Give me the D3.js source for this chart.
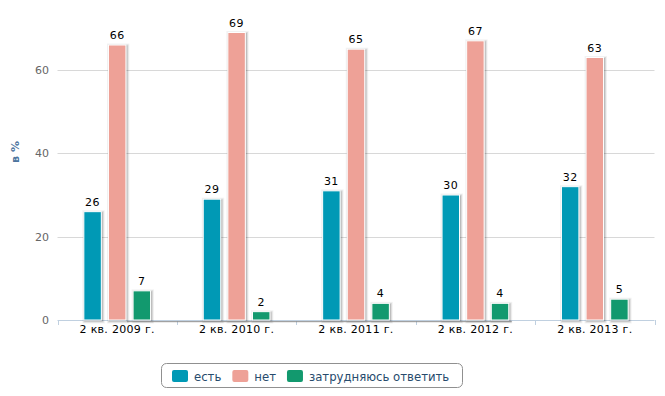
<!DOCTYPE html>
<html><head><meta charset="utf-8">
<script src="https://cdn.jsdelivr.net/npm/d3@7/dist/d3.min.js"></script>
<style>
body{margin:0;background:#fff;}
svg{display:block;font-family:"DejaVu Sans",Verdana,sans-serif;}
</style></head>
<body>
<svg id="chart" width="665" height="396"></svg>
<script>
const categories = ["2 кв. 2009 г.","2 кв. 2010 г.","2 кв. 2011 г.","2 кв. 2012 г.","2 кв. 2013 г."];
const seriesNames = ["есть","нет","затрудняюсь ответить"];
const seriesColors = ["#0099b5","#eea197","#12996e"];
const valuesEst = [26,29,31,30,32];
const valuesNet = [66,69,65,67,63];
const valuesHard = [7,2,4,4,5];
const yTicks = [0,20,40,60];
const yTitle = "в %";

const series = [valuesEst, valuesNet, valuesHard];
const svg = d3.select("#chart");
const m = {left:57.5, right:654.5, top:0, bottom:320};
const x = d3.scaleBand().domain(categories).range([m.left,m.right]).paddingInner(0).paddingOuter(0);
const y = d3.scaleLinear().domain([0,60]).range([320,70]);
const xs = d3.scaleBand().domain(d3.range(series.length)).range([0,x.bandwidth()]).paddingOuter(1.07).paddingInner(0.29);

// grid
svg.append("g").selectAll("line").data(yTicks.filter(d=>d>0)).join("line")
  .attr("x1",m.left).attr("x2",m.right)
  .attr("y1",d=>Math.round(y(d))+0.5).attr("y2",d=>Math.round(y(d))+0.5)
  .attr("stroke","#d8d8d8").attr("stroke-width",1);

// y labels
svg.append("g").selectAll("text").data(yTicks).join("text")
  .attr("x",49).attr("y",d=>y(d)+4).attr("text-anchor","end")
  .attr("fill","#666").style("font-size","11px").text(d=>d);

// y title
svg.append("text").attr("transform","translate(19,152) rotate(-90)")
  .attr("text-anchor","middle").attr("fill","#4d759e").style("font-size","11px").style("font-weight","bold").text(yTitle);

// x axis line
svg.append("line").attr("x1",m.left).attr("x2",m.right).attr("y1",320.5).attr("y2",320.5)
  .attr("stroke","#c0d0e0");
svg.append("g").selectAll("line").data(d3.range(categories.length+1)).join("line")
  .attr("x1",i=>Math.round(m.left+i*x.bandwidth())+0.5).attr("x2",i=>Math.round(m.left+i*x.bandwidth())+0.5)
  .attr("y1",320).attr("y2",325).attr("stroke","#c0d0e0");

// bars
const data = [];
series.forEach((vals,si)=>vals.forEach((v,ci)=>data.push({si,ci,v})));
const g = svg.append("g");
const bw = xs.bandwidth();
// axis shadow artifact (spans from first group's second bar to fourth group's last bar)
const sx1 = x(categories[0])+xs(1)+bw+1, sx2 = x(categories[3])+xs(2)+bw+3;
svg.append("line").attr("x1",sx1).attr("x2",sx2).attr("y1",321.5).attr("y2",321.5).attr("stroke","#8a8a8a").attr("stroke-opacity",0.8);
svg.append("line").attr("x1",sx1).attr("x2",sx2).attr("y1",322.5).attr("y2",322.5).attr("stroke","#000").attr("stroke-opacity",0.08);
// shadows
[[5,0.05],[3,0.1],[1,0.15]].forEach(([w,o])=>{
  g.append("g").selectAll("rect").data(data).join("rect")
    .attr("x",d=>x(categories[d.ci])+xs(d.si)+1).attr("y",d=>y(d.v)+1)
    .attr("width",bw).attr("height",d=>y(0)-y(d.v))
    .attr("fill","none").attr("stroke","#000").attr("stroke-opacity",o).attr("stroke-width",w);
});
g.append("g").selectAll("rect").data(data).join("rect")
  .attr("x",d=>x(categories[d.ci])+xs(d.si)).attr("y",d=>y(d.v))
  .attr("width",bw).attr("height",d=>y(0)-y(d.v))
  .attr("fill",d=>seriesColors[d.si]).attr("stroke","#fff").attr("stroke-width",1);

// value labels
svg.append("g").selectAll("text").data(data).join("text")
  .attr("x",d=>x(categories[d.ci])+xs(d.si)+bw/2).attr("y",d=>y(d.v)-6)
  .attr("text-anchor","middle").attr("fill","#000").style("font-size","11px").style("letter-spacing","0.5px").text(d=>d.v);

// x labels
svg.append("g").selectAll("text").data(categories).join("text")
  .attr("x",d=>x(d)+x.bandwidth()/2).attr("y",333).attr("text-anchor","middle")
  .attr("fill","#000").style("font-size","11px").style("letter-spacing","0.3px").text(d=>d);

// legend
const lg = svg.append("g");
lg.append("rect").attr("x",161.5).attr("y",363.5).attr("width",301).attr("height",24).attr("rx",5)
  .attr("fill","#fff").attr("stroke","#909090");
let lx = 172;
seriesNames.forEach((n,i)=>{
  lg.append("rect").attr("x",lx).attr("y",370).attr("width",16).attr("height",12).attr("rx",2).attr("fill",seriesColors[i]);
  const t = lg.append("text").attr("x",lx+22).attr("y",380.5).attr("fill","#274b6d").style("font-size","11.7px").text(n);
  lx += 22 + t.node().getComputedTextLength() + 11;
});
</script>
</body></html>
